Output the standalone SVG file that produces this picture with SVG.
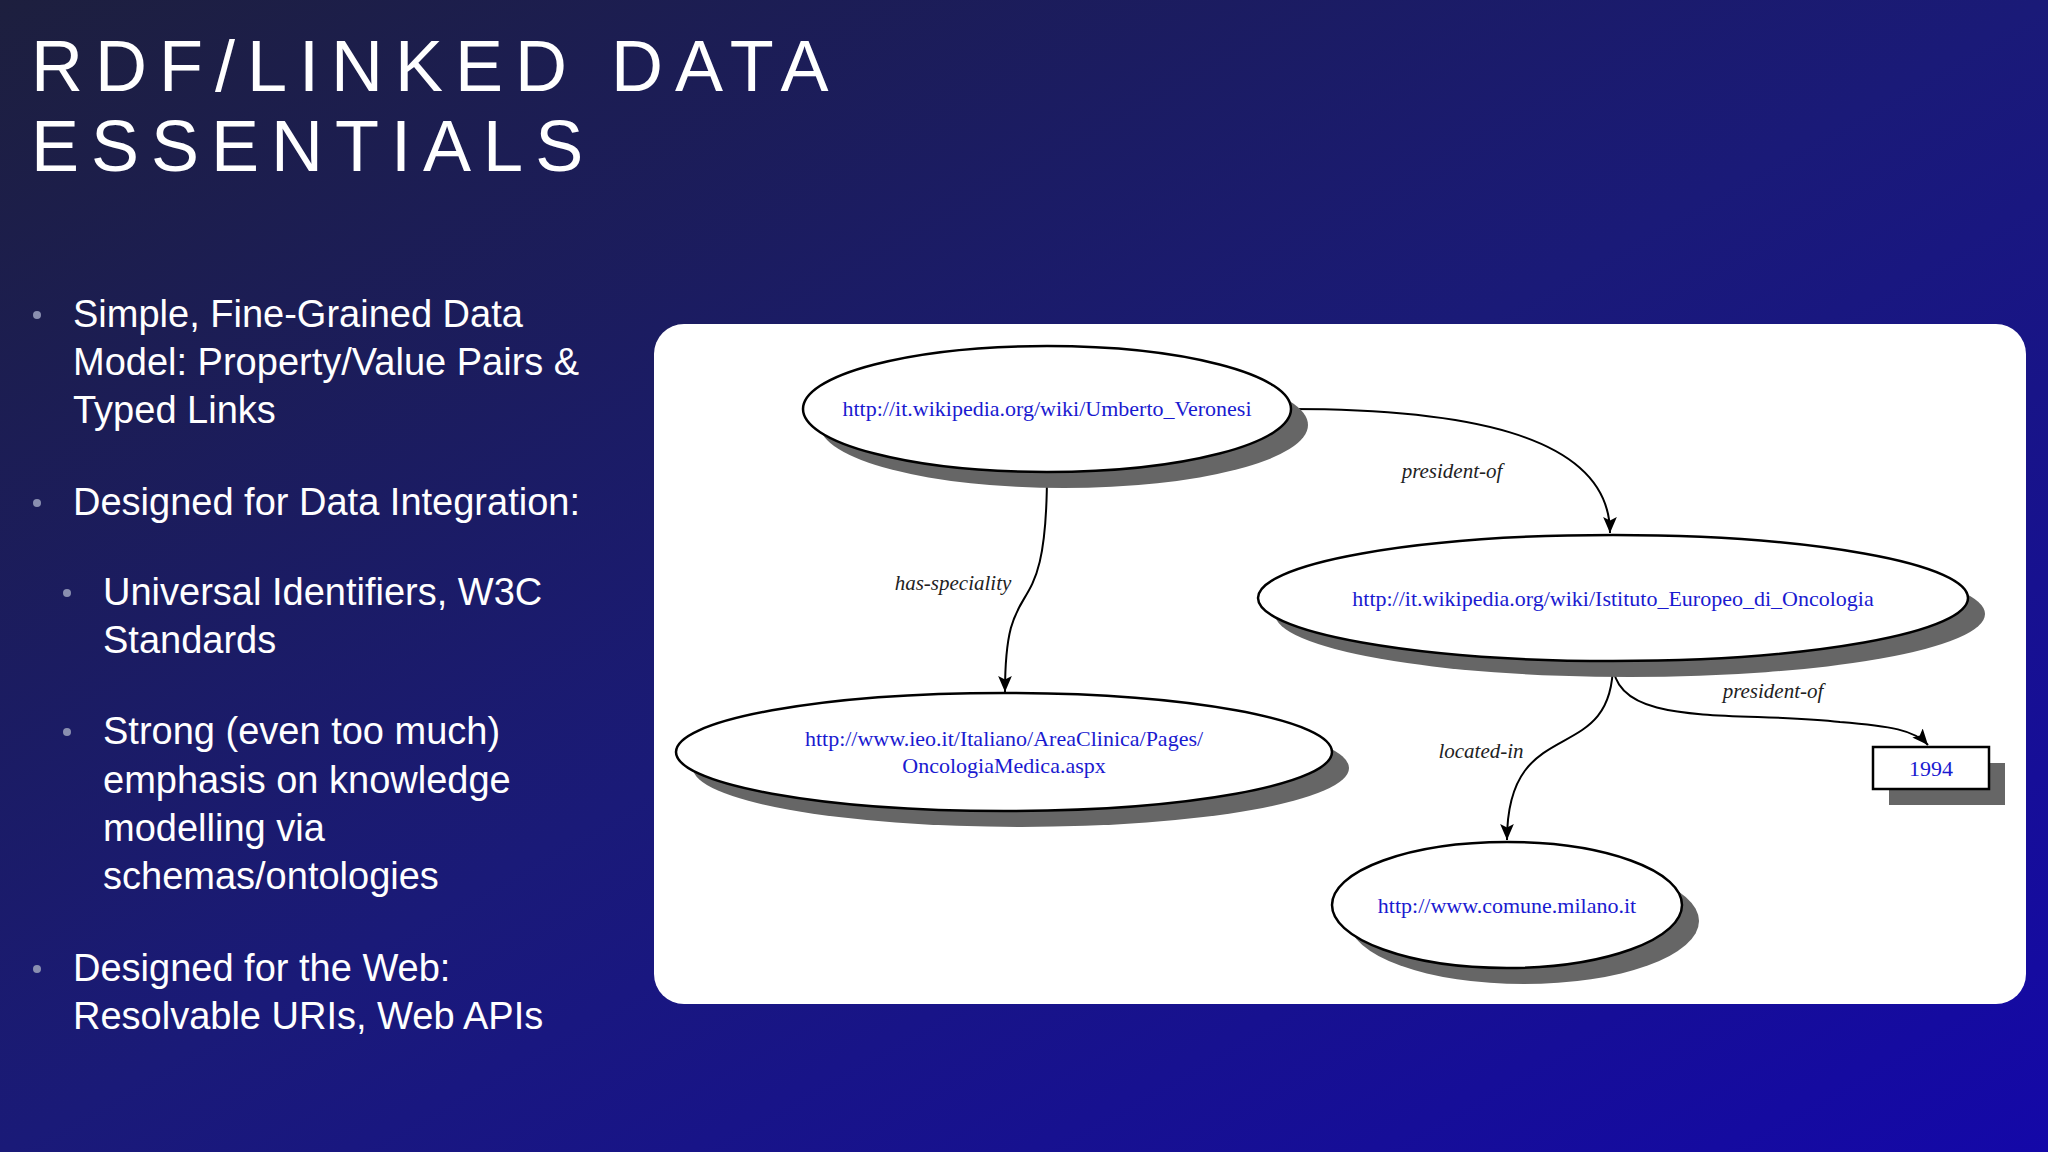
<svg xmlns="http://www.w3.org/2000/svg" width="2048" height="1152" viewBox="0 0 2048 1152">
<defs>
<linearGradient id="bg" x1="0" y1="0" x2="1" y2="1">
<stop offset="0" stop-color="#1d1f3e"/>
<stop offset="0.5" stop-color="#1a1a78"/>
<stop offset="1" stop-color="#1408a8"/>
</linearGradient>
<marker id="ah" viewBox="0 0 10 10" refX="10" refY="5" markerWidth="10" markerHeight="10" markerUnits="userSpaceOnUse" orient="auto"><path d="M0,1 L10,5 L0,9 Z" fill="#000"/></marker>
<marker id="arr" viewBox="0 0 14 12" refX="14" refY="6" markerWidth="16" markerHeight="14" markerUnits="userSpaceOnUse" orient="auto"><path d="M0,0 L14,6 L0,12 L3,6 Z" fill="#000"/></marker>
</defs>
<style>
.t{font-family:"Liberation Sans",Arial,sans-serif;fill:#fff}
.title{font-size:72px;letter-spacing:12px}
.b{font-size:38px}
.dot{fill:#8a8fb0}
.sh{fill:#666}
.nd{fill:#fff;stroke:#000;stroke-width:2.5}
.u{font-family:"Liberation Serif","Times New Roman",serif;font-size:22px;fill:#1a1ad0;text-anchor:middle}
.lb{font-family:"Liberation Serif","Times New Roman",serif;font-size:21px;font-style:italic;fill:#222;text-anchor:middle}
.e{fill:none;stroke:#000;stroke-width:2}
</style>
<rect width="2048" height="1152" fill="url(#bg)"/>
<text class="t title" x="31" y="91">RDF/LINKED DATA</text>
<text class="t title" x="31" y="171">ESSENTIALS</text>
<g class="t b">
<circle class="dot" cx="37" cy="315" r="4"/>
<text x="73" y="327">Simple, Fine-Grained Data</text>
<text x="73" y="375">Model: Property/Value Pairs &amp;</text>
<text x="73" y="423">Typed Links</text>
<circle class="dot" cx="37" cy="503" r="4"/>
<text x="73" y="515">Designed for Data Integration:</text>
<circle class="dot" cx="67" cy="593" r="4"/>
<text x="103" y="605">Universal Identifiers, W3C</text>
<text x="103" y="653">Standards</text>
<circle class="dot" cx="67" cy="732" r="4"/>
<text x="103" y="744">Strong (even too much)</text>
<text x="103" y="793">emphasis on knowledge</text>
<text x="103" y="841">modelling via</text>
<text x="103" y="889">schemas/ontologies</text>
<circle class="dot" cx="37" cy="969" r="4"/>
<text x="73" y="981">Designed for the Web:</text>
<text x="73" y="1029">Resolvable URIs,  Web APIs</text>
</g>
<rect x="654" y="324" width="1372" height="680" rx="30" fill="#fff"/>
<g id="connectors">
<path class="e" marker-end="url(#arr)" d="M1290,409 C1450,409 1610,430 1610,533"/>
<text class="lb" x="1452" y="478">president-of</text>
<path class="e" marker-end="url(#arr)" d="M1047,472 C1047,640 1005,560 1005,692"/>
<text class="lb" x="953" y="590">has-speciality</text>
<path class="e" marker-end="url(#arr)" d="M1613,663 C1613,770 1507,710 1507,840"/>
<text class="lb" x="1481" y="758">located-in</text>
<path class="e" marker-end="url(#arr)" d="M1613,663 C1613,730 1740,710 1840,722 C1890,726 1915,730 1928,745"/>
<text class="lb" x="1773" y="698">president-of</text>
</g>
<g id="n1"><ellipse class="sh" cx="1064" cy="425" rx="244" ry="63"/><ellipse class="nd" cx="1047" cy="409" rx="244" ry="63"/><text class="u" x="1047" y="416">http://it.wikipedia.org/wiki/Umberto_Veronesi</text></g>
<g id="n2"><ellipse class="sh" cx="1630" cy="614" rx="355" ry="63"/><ellipse class="nd" cx="1613" cy="598" rx="355" ry="63"/><text class="u" x="1613" y="606">http://it.wikipedia.org/wiki/Istituto_Europeo_di_Oncologia</text></g>
<g id="n3"><ellipse class="sh" cx="1021" cy="768" rx="328" ry="59"/><ellipse class="nd" cx="1004" cy="752" rx="328" ry="59"/><text class="u" x="1004" y="746">http://www.ieo.it/Italiano/AreaClinica/Pages/</text><text class="u" x="1004" y="773">OncologiaMedica.aspx</text></g>
<g id="n4"><ellipse class="sh" cx="1524" cy="921" rx="175" ry="63"/><ellipse class="nd" cx="1507" cy="905" rx="175" ry="63"/><text class="u" x="1507" y="913">http://www.comune.milano.it</text></g>
<g id="n5"><rect class="sh" x="1889" y="763" width="116" height="42"/><rect class="nd" x="1873" y="747" width="116" height="42"/><text class="u" x="1931" y="776" style="fill:#1a1ad0">1994</text></g>
</svg>
